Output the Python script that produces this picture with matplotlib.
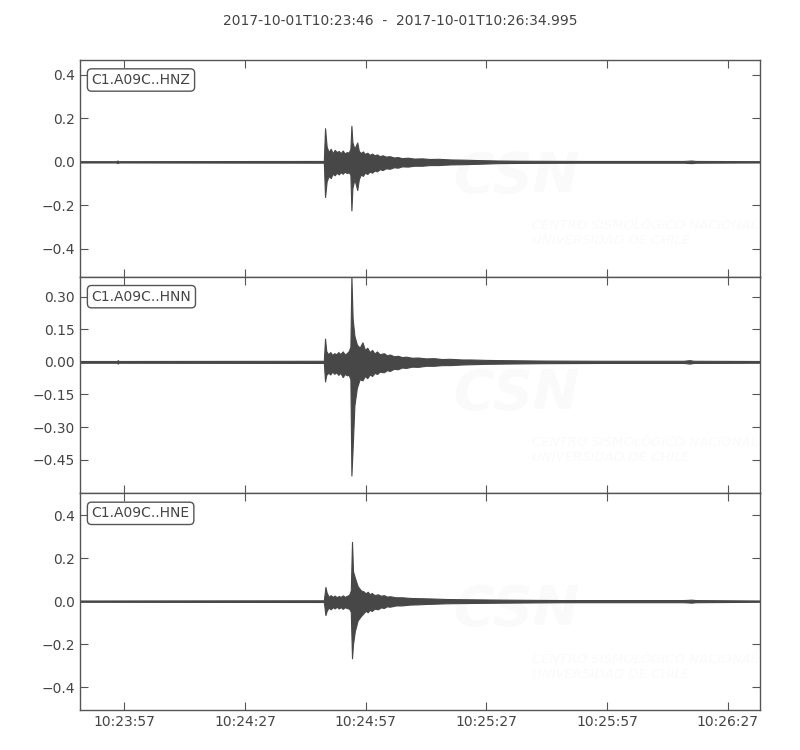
import matplotlib
matplotlib.use("Agg")
import matplotlib.pyplot as plt

title = "2017-10-01T10:23:46  -  2017-10-01T10:26:34.995"
channels = ["C1.A09C..HNZ", "C1.A09C..HNN", "C1.A09C..HNE"]
xtick_pos = [11, 41, 71, 101, 131, 161]
xtick_labels = ["10:23:57", "10:24:27", "10:24:57", "10:25:27", "10:25:57", "10:26:27"]
duration = 168.995

# Envelope of each trace (seconds after start, upper and lower amplitude)
hnz_t = [0, 9.0, 9.3, 9.6, 60.6, 60.9, 61.3, 61.8, 62.3, 62.8, 63.3, 63.8, 64.3, 64.8, 65.3,
         65.8, 66.3, 66.8, 67.2, 67.45, 67.7, 68.2, 68.9, 69.3, 69.8, 70.3, 70.8, 71.4, 72.0,
         72.6, 73.2, 73.8, 74.5, 75.2, 76.0, 77.0, 78.0, 79.0, 80.0, 81.5, 83.0, 85.0, 87.0,
         89.0, 92.0, 95.0, 99.0, 104.0, 110.0, 125.0, 150.0, 152.0, 153.0, 169.0]
hnz_up = [0.003, 0.003, 0.006, 0.003, 0.004, 0.155, 0.07, 0.045, 0.06, 0.04, 0.055, 0.045, 0.05,
          0.04, 0.052, 0.038, 0.045, 0.042, 0.06, 0.166, 0.09, 0.06, 0.089, 0.05, 0.04, 0.048,
          0.036, 0.042, 0.032, 0.038, 0.03, 0.034, 0.026, 0.03, 0.024, 0.026, 0.02, 0.022, 0.017,
          0.019, 0.015, 0.016, 0.013, 0.014, 0.011, 0.01, 0.008, 0.006, 0.005, 0.004, 0.004,
          0.006, 0.004, 0.003]
hnz_lo = [-0.003, -0.003, -0.006, -0.003, -0.004, -0.162, -0.09, -0.065, -0.075, -0.055,
          -0.062, -0.05, -0.058, -0.048, -0.055, -0.045, -0.052, -0.048, -0.06, -0.224, -0.12,
          -0.08, -0.13, -0.08, -0.058, -0.065, -0.05, -0.056, -0.045, -0.05, -0.04, -0.044,
          -0.034, -0.038, -0.03, -0.032, -0.025, -0.027, -0.021, -0.022, -0.018, -0.018, -0.015,
          -0.015, -0.012, -0.011, -0.009, -0.006, -0.005, -0.004, -0.004, -0.006, -0.004, -0.003]

hnn_t = [0, 9.2, 9.4, 9.6, 60.6, 60.9, 61.2, 61.7, 62.2, 62.7, 63.2, 63.7, 64.2, 64.7, 65.3,
         65.8, 66.3, 66.8, 67.2, 67.45, 67.75, 68.2, 68.8, 69.5, 70.2, 70.8, 71.4, 72.0, 72.6,
         73.2, 73.8, 74.5, 75.5, 76.3, 77.0, 78.0, 79.0, 80.0, 81.0, 82.5, 84.0, 86.0, 88.0,
         90.0, 92.0, 95.0, 97.0, 101.0, 105.0, 115.0, 130.0, 150.0, 151.5, 152.5, 169.0]
hnn_up = [0.004, 0.004, 0.008, 0.004, 0.005, 0.107, 0.05, 0.035, 0.045, 0.032, 0.04, 0.035,
          0.045, 0.036, 0.048, 0.034, 0.04, 0.05, 0.07, 0.392, 0.2, 0.12, 0.08, 0.065, 0.09,
          0.055, 0.065, 0.045, 0.055, 0.038, 0.048, 0.035, 0.04, 0.03, 0.034, 0.026, 0.028,
          0.022, 0.024, 0.019, 0.02, 0.016, 0.017, 0.013, 0.014, 0.011, 0.011, 0.009, 0.008,
          0.006, 0.005, 0.005, 0.008, 0.005, 0.004]
hnn_lo = [-0.004, -0.004, -0.008, -0.004, -0.005, -0.09, -0.06, -0.05, -0.058, -0.045, -0.055,
          -0.048, -0.06, -0.05, -0.07, -0.055, -0.062, -0.06, -0.08, -0.523, -0.40, -0.2, -0.12,
          -0.08, -0.085, -0.065, -0.075, -0.058, -0.065, -0.05, -0.056, -0.045, -0.048, -0.038,
          -0.042, -0.032, -0.034, -0.026, -0.028, -0.022, -0.023, -0.018, -0.018, -0.015,
          -0.015, -0.012, -0.011, -0.009, -0.008, -0.006, -0.005, -0.005, -0.008, -0.005, -0.004]

hne_t = [0, 60.6, 61.0, 61.3, 61.8, 62.3, 62.8, 63.3, 63.8, 64.3, 64.8, 65.3, 65.8, 66.3, 66.9,
         67.3, 67.6, 67.85, 68.3, 69.0, 69.8, 70.5, 71.0, 71.5, 72.0, 72.5, 73.2, 74.0, 74.8,
         75.5, 76.3, 77.0, 78.5, 80.0, 82.0, 84.0, 86.0, 88.0, 91.0, 95.0, 100.0, 105.0, 120.0,
         150.0, 152.0, 153.0, 169.0]
hne_up = [0.003, 0.004, 0.066, 0.04, 0.02, 0.028, 0.02, 0.026, 0.018, 0.024, 0.02, 0.027, 0.02,
          0.024, 0.03, 0.05, 0.276, 0.14, 0.11, 0.07, 0.05, 0.045, 0.036, 0.044, 0.032, 0.038,
          0.028, 0.032, 0.025, 0.028, 0.021, 0.023, 0.018, 0.018, 0.015, 0.014, 0.013, 0.012,
          0.01, 0.009, 0.008, 0.007, 0.005, 0.005, 0.007, 0.005, 0.003]
hne_lo = [-0.003, -0.004, -0.065, -0.045, -0.03, -0.038, -0.028, -0.034, -0.026, -0.034,
          -0.028, -0.036, -0.028, -0.032, -0.035, -0.05, -0.266, -0.2, -0.14, -0.09, -0.07,
          -0.055, -0.045, -0.052, -0.04, -0.046, -0.035, -0.038, -0.029, -0.032, -0.024, -0.026,
          -0.02, -0.02, -0.016, -0.015, -0.013, -0.012, -0.01, -0.009, -0.008, -0.007, -0.005,
          -0.005, -0.007, -0.005, -0.003]

ylims = [(-0.529, 0.469), (-0.605, 0.392), (-0.507, 0.502)]
yticks = [[-0.4, -0.2, 0.0, 0.2, 0.4],
          [-0.45, -0.30, -0.15, 0.00, 0.15, 0.30],
          [-0.4, -0.2, 0.0, 0.2, 0.4]]
ytick_fmt = ["%.1f", "%.2f", "%.1f"]

traces = [(hnz_t, hnz_up, hnz_lo), (hnn_t, hnn_up, hnn_lo), (hne_t, hne_up, hne_lo)]

trace_color = "#474747"
text_color = "#444444"
spine_color = "#555555"
mark_color = "#fafafa"

fig = plt.figure(figsize=(8, 7.5), dpi=100)
fig.subplots_adjust(left=0.1, right=0.95, top=0.92, bottom=0.0533, hspace=0)
axes = fig.subplots(3, 1, sharex=True)
fig.text(0.5, 0.972, title, ha="center", va="center", fontsize=10, color=text_color)

for i, ax in enumerate(axes):
    t, up, lo = traces[i]
    ylo, yhi = ylims[i]
    # very faint watermark
    ax.text(0.55, 0.46, "CSN", transform=ax.transAxes, fontsize=40, fontweight="bold",
            style="italic", color=mark_color, ha="left", va="center", zorder=0, clip_on=True)
    ax.text(0.665, 0.2, "CENTRO SISMOLÓGICO NACIONAL\nUNIVERSIDAD DE CHILE",
            transform=ax.transAxes, fontsize=9.5, style="italic", color=mark_color,
            ha="left", va="center", zorder=0, linespacing=1.2, clip_on=True)
    ax.fill_between(t, lo, up, color=trace_color, linewidth=0.8, edgecolor=trace_color, zorder=2)
    ax.set_xlim(0, duration)
    ax.set_ylim(ylo, yhi)
    ax.set_yticks(yticks[i])
    ax.set_yticklabels([(ytick_fmt[i] % v).replace("-", "\u2212") for v in yticks[i]])
    ax.set_xticks(xtick_pos)
    ax.tick_params(direction="in", top=True, right=True, length=6, width=0.8,
                   colors=spine_color, labelcolor=text_color, labelsize=10)
    for s in ax.spines.values():
        s.set_color(spine_color)
        s.set_linewidth(1.0)
    ax.text(0.017, 0.94, channels[i], transform=ax.transAxes, fontsize=10, color=text_color,
            ha="left", va="top", zorder=5,
            bbox=dict(boxstyle="round,pad=0.3", facecolor="white", edgecolor=spine_color,
                      linewidth=1.0))
    if i < 2:
        ax.tick_params(labelbottom=False)

axes[-1].set_xticklabels(xtick_labels)
fig.savefig("out.png", dpi=100)
